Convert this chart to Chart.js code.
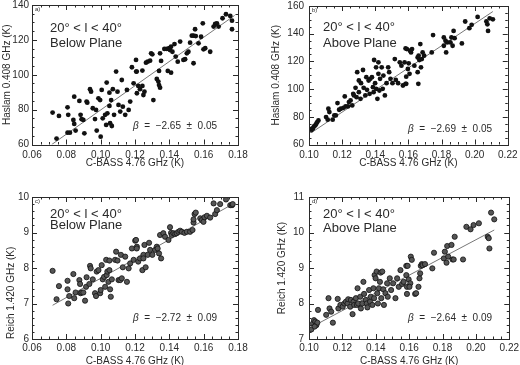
<!DOCTYPE html>
<html lang="en">
<head>
  <meta charset="UTF-8">
  <title>C-BASS vs Haslam / Reich</title>
  <script src="https://cdn.jsdelivr.net/npm/chart.js"></script>
  <style>
    body { margin: 0; background: #fff; }
    #wrap { position: relative; width: 520px; height: 365px; overflow: hidden; }
    #wrap canvas { position: absolute; }
  </style>
</head>
<body>

<div id="wrap">
  <canvas id="pa" width="260" height="185" style="left:0;top:-5px"></canvas>
  <canvas id="pb" width="262" height="185" style="left:260px;top:-5px"></canvas>
  <canvas id="pc" width="260" height="185" style="left:0;top:180px"></canvas>
  <canvas id="pd" width="262" height="185" style="left:260px;top:180px"></canvas>
</div>

<script>
  // panel a) Haslam vs C-BASS, below plane
  const aX = [
    0.0720,0.0757,0.0743,0.0807,0.0811,0.0807,0.0821,0.0846,0.0841,0.0846,
    0.0854,0.0883,0.0889,0.0876,0.0899,0.0905,0.0918,0.0922,0.0938,0.0944,
    0.0954,0.0967,0.0973,0.0977,0.0987,0.0997,0.1000,0.1006,0.1012,0.1026,
    0.1032,0.1035,0.1039,0.1051,0.1051,0.1055,0.1061,0.1065,0.1071,0.1078,
    0.1090,0.1098,0.1104,0.1114,0.1123,0.1129,0.1143,0.1153,0.1163,0.1172,
    0.1182,0.1192,0.1207,0.1211,
    0.1206,0.1210,0.1219,0.1229,0.1243,0.1243,0.1249,0.1255,0.1264,0.1274,
    0.1288,0.1294,0.1301,0.1307,0.1327,0.1336,0.1340,0.1346,0.1340,0.1346,
    0.1352,0.1371,0.1385,0.1391,0.1399,0.1404,0.1410,0.1410,0.1418,0.1430,
    0.1437,0.1449,0.1463,0.1482,0.1492,0.1502,0.1511,0.1521,0.1531,0.1541,
    0.1541,0.1550,0.1554,0.1570,0.1585,0.1595,0.1599,0.1609,0.1638,0.1658,
    0.1667,0.1677,0.1687,0.1710,0.1730,0.1755,0.1765,0.1765
  ];
  const aY = [
    78.3,76.4,63.4,81.3,77.0,66.8,66.8,87.4,74.1,71.8,
    68.0,77.0,74.5,85.0,74.1,66.4,84.6,84.0,91.7,90.3,
    80.8,74.6,79.8,68.0,86.5,85.5,64.5,91.3,75.0,77.0,
    71.2,95.5,77.9,89.7,82.1,72.2,85.5,70.6,91.7,77.0,
    101.8,90.3,82.7,78.9,97.0,81.7,77.0,91.3,79.8,84.6,
    104.3,95.1,101.8,89.4,
    108.5,101.8,93.6,91.7,102.4,93.6,88.4,90.3,106.9,107.5,
    108.1,112.3,111.7,85.5,97.6,96.1,94.1,92.6,102.2,112.3,
    107.9,114.8,114.8,102.2,115.2,114.2,116.1,101.2,113.2,117.6,
    110.4,107.5,119.0,108.5,108.9,112.3,113.2,118.4,122.4,106.6,
    122.4,126.1,122.2,118.0,121.8,129.5,114.6,115.2,113.2,127.6,
    129.1,129.5,127.6,132.4,134.7,133.7,131.0,126.1
  ];

  // panel b) Haslam vs C-BASS, above plane
  const bX = [
    0.1014,0.1024,0.1030,0.1038,0.1044,0.1050,0.1057,0.1018,0.1103,0.1113,
    0.1117,0.1123,0.1143,0.1153,0.1162,0.1172,0.1182,0.1192,0.1208,0.1216,
    0.1221,0.1235,0.1241,0.1251,0.1261,0.1267,0.1271,0.1281,0.1287,0.1291,
    0.1301,0.1301,0.1311,0.1314,0.1326,0.1330,0.1340,0.1346,0.1350,0.1360,
    0.1366,0.1370,0.1380,0.1386,0.1390,0.1393,0.1399,0.1405,0.1405,0.1413,
    0.1419,0.1419,0.1425,0.1429,0.1439,0.1445,0.1449,0.1458,0.1468,0.1478,
    0.1484,0.1492,0.1504,0.1518,0.1524,0.1538,0.1548,0.1558,0.1567,0.1583,
    0.1587,
    0.1577,0.1587,0.1583,0.1591,0.1597,0.1610,0.1616,0.1607,0.1622,0.1602,
    0.1636,0.1656,0.1662,0.1666,0.1656,0.1660,0.1676,0.1672,0.1681,0.1695,
    0.1686,0.1741,0.1749,0.1814,0.1814,0.1824,0.1828,0.1834,0.1854,0.1860,
    0.1867,0.1873,0.1879,0.1923,0.1943,0.1968,0.1982,0.2018,0.2071,0.2077,
    0.2081,0.2091,0.2110
  ];
  const bY = [
    70.3,71.5,73.1,73.8,75.0,76.2,77.4,71.5,79.8,77.9,
    85.8,83.4,77.9,81.0,81.0,89.9,85.1,85.8,86.5,94.7,
    87.5,87.5,90.6,91.8,88.2,96.6,95.4,100.9,94.2,112.2,
    106.2,97.8,93.0,104.3,113.8,100.9,95.4,108.6,99.5,106.2,
    96.6,107.4,108.6,101.4,97.8,121.0,104.3,115.7,100.2,93.0,
    119.3,111.0,99.0,107.4,115.7,100.2,109.8,95.4,104.3,115.7,
    112.2,107.4,104.3,121.7,106.6,104.3,119.3,116.9,102.6,129.4,
    103.8,
    119.3,109.0,103.8,128.9,114.5,127.7,126.5,111.0,128.9,118.6,
    116.9,122.9,124.1,121.0,112.2,103.8,115.7,132.5,121.7,124.1,
    126.5,126.5,139.0,137.3,131.3,134.9,126.5,133.7,133.7,137.3,
    131.3,142.0,136.8,133.0,148.8,144.0,146.4,152.1,148.8,146.8,
    142.0,151.1,150.4
  ];

  // panel c) Reich vs C-BASS, below plane
  const cX = [
    0.0720,0.0757,0.0743,0.0807,0.0807,0.0817,0.0811,0.0841,0.0846,0.0854,
    0.0876,0.0880,0.0883,0.0889,0.0899,0.0909,0.0915,0.0918,0.0934,0.0938,
    0.0942,0.0954,0.0967,0.0973,0.0977,0.0987,0.0997,0.1000,0.1006,0.1012,
    0.1020,0.1026,0.1032,0.1035,0.1039,0.1045,0.1051,0.1055,0.1059,0.1065,
    0.1051,0.1084,0.1090,0.1098,0.1104,0.1114,0.1118,0.1123,0.1129,0.1143,
    0.1153,0.1163,0.1172,0.1182,0.1192,0.1201,0.1211,
    0.1206,0.1210,0.1219,0.1229,0.1243,0.1249,0.1249,0.1255,0.1262,0.1274,
    0.1282,0.1288,0.1301,0.1317,0.1327,0.1332,0.1340,0.1346,0.1352,0.1365,
    0.1375,0.1395,0.1404,0.1410,0.1414,0.1424,0.1434,0.1443,0.1453,0.1463,
    0.1473,0.1488,0.1502,0.1521,0.1535,0.1541,0.1547,0.1554,0.1541,0.1580,
    0.1589,0.1599,0.1605,0.1619,0.1638,0.1658,0.1667,0.1677,0.1696,0.1730,
    0.1755,0.1765,0.1769
  ];
  const cY = [
    7.92,7.49,7.12,7.64,7.40,7.21,7.00,7.83,7.15,7.31,
    7.66,7.55,7.29,7.31,7.31,7.08,7.47,7.74,7.55,8.06,
    7.99,7.68,7.29,7.21,7.90,7.94,7.29,7.38,8.08,7.68,
    7.75,7.47,8.23,7.80,7.90,7.61,7.94,7.40,7.19,7.68,
    8.21,8.23,8.46,8.21,7.66,7.66,8.37,7.71,8.02,8.32,
    7.61,7.99,8.13,8.55,8.23,8.77,8.60,
    8.79,8.55,8.18,8.27,7.94,8.37,8.27,8.65,8.02,8.37,
    8.71,8.51,8.37,8.51,8.60,8.55,8.41,8.93,8.27,8.98,
    8.88,8.79,9.15,8.99,8.93,8.98,8.96,8.98,9.02,9.05,
    9.02,8.99,9.02,9.02,9.07,9.28,9.52,9.56,9.37,9.40,
    9.35,9.30,9.43,9.47,9.42,9.82,9.52,9.63,9.80,9.93,
    9.77,9.77,9.80
  ];

  // panel d) Reich vs C-BASS, above plane
  const dX = [
    0.1014,0.1024,0.1030,0.1038,0.1044,0.1050,0.1054,0.1034,0.1103,0.1117,
    0.1123,0.1133,0.1143,0.1172,0.1176,0.1188,0.1202,0.1212,0.1221,0.1231,
    0.1235,0.1247,0.1251,0.1261,0.1267,0.1271,0.1281,0.1287,0.1291,0.1295,
    0.1307,0.1311,0.1320,0.1326,0.1330,0.1340,0.1346,0.1350,0.1360,0.1366,
    0.1370,0.1380,0.1386,0.1390,0.1393,0.1399,0.1405,0.1409,0.1413,0.1419,
    0.1425,0.1429,0.1433,0.1439,0.1445,0.1449,0.1458,0.1468,0.1472,0.1484,
    0.1492,0.1504,0.1518,0.1528,0.1538,0.1548,0.1558,0.1567,0.1583,0.1587,
    0.1587,
    0.1583,0.1591,0.1597,0.1607,0.1610,0.1616,0.1602,0.1636,0.1642,0.1656,
    0.1662,0.1666,0.1670,0.1676,0.1681,0.1695,0.1739,0.1749,0.1808,0.1814,
    0.1824,0.1828,0.1834,0.1854,0.1860,0.1867,0.1873,0.1923,0.1943,0.1968,
    0.1986,0.2018,0.2071,0.2077,0.2081,0.2091,0.2110
  ];
  const dY = [
    7.27,7.44,7.53,7.49,7.39,7.46,7.82,7.35,7.68,8.15,
    7.86,7.77,7.46,8.13,7.86,7.96,7.91,8.00,8.05,8.00,
    8.12,7.91,8.10,7.70,8.05,7.96,8.15,7.96,8.43,8.00,
    8.19,7.86,8.00,8.61,8.27,8.10,8.00,7.89,8.38,8.05,
    8.19,7.96,8.43,8.15,8.80,8.71,8.90,8.29,8.00,8.43,
    8.61,8.87,8.15,8.90,8.40,7.96,8.29,8.57,8.19,8.71,
    8.38,8.57,8.15,8.71,8.47,8.94,8.55,8.61,9.06,8.47,
    8.27,
    8.80,9.06,8.68,8.57,9.32,9.23,8.47,8.27,8.29,8.47,
    8.71,8.85,9.06,9.11,9.08,9.11,8.99,9.43,9.27,9.46,
    9.15,9.62,9.32,9.65,9.24,9.24,9.88,9.24,10.16,10.09,
    10.21,10.26,9.88,9.84,9.55,10.56,10.37
  ];

  // fitted power-law lines (end points)
  const fitAX = [0.0715, 0.178], fitAY = [60, 134];
  const fitBX = [0.102, 0.211],  fitBY = [69, 156];
  const fitCX = [0.072, 0.178],  fitCY = [6.95, 9.83];
  const fitDX = [0.106, 0.211],  fitDY = [7.45, 10.07];

  const betaLabels = ['-2.65 ± 0.05', '-2.69 ± 0.05', '-2.72 ± 0.09', '-2.64 ± 0.09'];

  const FONT = 'Liberation Sans';
  const INK = '#2a2a2a';

  // box frame + inward major/minor ticks on all four sides (IDL style)
  const frameTicks = {
    id: 'frameTicks',
    afterDatasetsDraw(chart, args, o) {
      const {ctx, chartArea: a, scales: {x, y}} = chart;
      ctx.save();
      ctx.strokeStyle = INK;
      ctx.lineWidth = 1;
      ctx.strokeRect(Math.round(a.left) + 0.5, Math.round(a.top) + 0.5,
        Math.round(a.right - a.left), Math.round(a.bottom - a.top));
      ctx.beginPath();
      const nx = Math.round((x.max - x.min) / o.xMinor);
      const perX = Math.round(o.xStep / o.xMinor);
      for (let i = 0; i <= nx; i++) {
        const px = Math.round(x.getPixelForValue(x.min + i * o.xMinor)) + 0.5;
        const len = i % perX === 0 ? 5 : 2.5;
        ctx.moveTo(px, a.bottom); ctx.lineTo(px, a.bottom - len);
        ctx.moveTo(px, a.top); ctx.lineTo(px, a.top + len);
      }
      const ny = Math.round((y.max - y.min) / o.yMinor);
      const perY = Math.round(o.yStep / o.yMinor);
      for (let i = 0; i <= ny; i++) {
        const py = Math.round(y.getPixelForValue(y.min + i * o.yMinor)) + 0.5;
        const len = i % perY === 0 ? 5 : 2.5;
        ctx.moveTo(a.left, py); ctx.lineTo(a.left + len, py);
        ctx.moveTo(a.right, py); ctx.lineTo(a.right - len, py);
      }
      ctx.stroke();
      ctx.restore();
    }
  };

  // in-panel annotations
  const panelText = {
    id: 'panelText',
    afterDraw(chart, args, o) {
      const {ctx, chartArea: a} = chart;
      ctx.save();
      ctx.fillStyle = INK;
      ctx.textBaseline = 'middle';
      ctx.font = '6px ' + FONT;
      ctx.fillText(o.letter, a.left + 3, a.top + 4);
      ctx.font = '13px ' + FONT;
      ctx.fillText('20° < l < 40°', a.left + o.tx, a.top + o.ty1);
      ctx.fillText(o.region, a.left + o.tx, a.top + o.ty2);
      ctx.font = 'italic 10px ' + FONT;
      let bx = a.left + o.bx;
      ctx.fillText('β', bx, a.top + o.by);
      bx += ctx.measureText('β').width;
      ctx.font = '10px ' + FONT;
      ctx.fillText('  =  ' + o.beta.replace('-', '−').replace('±', ' ± '), bx, a.top + o.by);
      ctx.restore();
    }
  };

  function makePanel(id, p) {
    const pts = p.xs.map((v, i) => ({x: v, y: p.ys[i]}));
    const fit = p.fx.map((v, i) => ({x: v, y: p.fy[i]}));
    new Chart(document.getElementById(id), {
      type: 'scatter',
      data: {
        datasets: [
          {
            data: pts,
            pointRadius: p.dark ? 2.4 : 2.6,
            backgroundColor: p.dark ? '#111' : '#555',
            borderColor: '#111',
            borderWidth: p.dark ? 0 : 0.8,
          },
          {
            data: fit,
            showLine: true,
            pointRadius: 0,
            borderColor: '#777',
            borderWidth: 1,
          },
        ],
      },
      options: {
        responsive: false,
        animation: false,
        events: [],
        layout: { padding: { left: 0, right: p.padR, top: p.padT, bottom: 0 } },
        plugins: {
          legend: { display: false },
          tooltip: { enabled: false },
          frameTicks: { xStep: 0.02, xMinor: 0.005, yStep: p.yStep, yMinor: p.yMinor },
          panelText: p.text,
        },
        scales: {
          x: {
            type: 'linear',
            min: p.xr[0], max: p.xr[1],
            grid: { display: false, drawTicks: false },
            border: { display: false },
            ticks: {
              stepSize: 0.02, autoSkip: false, maxRotation: 0,
              padding: p.xPad, color: INK, font: { family: FONT, size: 10 },
              callback: v => v.toFixed(2),
            },
            title: {
              display: true, text: 'C-BASS 4.76 GHz (K)', color: INK,
              font: { family: FONT, size: 10 }, padding: { top: 0, bottom: p.xTitlePad },
            },
            afterFit(s) { s.height = p.xH; },
          },
          y: {
            min: p.yr[0], max: p.yr[1],
            grid: { display: false, drawTicks: false },
            border: { display: false },
            ticks: {
              stepSize: p.yStep, padding: p.yPad, color: INK,
              font: { family: FONT, size: 10 },
            },
            title: {
              display: true, text: p.yTitle, color: INK, align: p.yTitleAlign,
              font: { family: FONT, size: 10 }, padding: { top: p.yTitlePad, bottom: 0 },
            },
            afterFit(s) { s.width = p.yW; },
          },
        },
      },
      plugins: [frameTicks, panelText],
    });
  }

  makePanel('pa', {
    xs: aX, ys: aY, fx: fitAX, fy: fitAY, dark: true,
    xr: [0.06, 0.18], yr: [60, 140], yStep: 20, yMinor: 5,
    yTitle: 'Haslam 0.408 GHz (K)', yTitleAlign: 'center',
    padT: 10, padR: 22, yW: 32, xH: 35.5, xPad: 4.5, yPad: 3, xTitlePad: 10.5, yTitlePad: 1,
    text: { letter: 'a)', region: 'Below Plane', tx: 18, ty1: 23, ty2: 38, bx: 101, by: 121, beta: betaLabels[0] },
  });
  makePanel('pb', {
    xs: bX, ys: bY, fx: fitBX, fy: fitBY, dark: true,
    xr: [0.10, 0.22], yr: [60, 160], yStep: 20, yMinor: 5,
    yTitle: 'Haslam 0.408 GHz (K)', yTitleAlign: 'center',
    padT: 10, padR: 10, yW: 49, xH: 35.5, xPad: 4.5, yPad: 5, xTitlePad: 10.5, yTitlePad: 10,
    text: { letter: 'b)', region: 'Above Plane', tx: 14, ty1: 21, ty2: 37, bx: 99, by: 123.5, beta: betaLabels[1] },
  });
  makePanel('pc', {
    xs: cX, ys: cY, fx: fitCX, fy: fitCY, dark: false,
    xr: [0.06, 0.18], yr: [6, 10], yStep: 1, yMinor: 0.2,
    yTitle: 'Reich 1.420 GHz (K)', yTitleAlign: 'start',
    padT: 17, padR: 22, yW: 32, xH: 26, xPad: 3, yPad: 3, xTitlePad: -2, yTitlePad: 5,
    text: { letter: 'c)', region: 'Below Plane', tx: 18, ty1: 17, ty2: 28, bx: 101, by: 121, beta: betaLabels[2] },
  });
  makePanel('pd', {
    xs: dX, ys: dY, fx: fitDX, fy: fitDY, dark: false,
    xr: [0.10, 0.22], yr: [7, 11], yStep: 1, yMinor: 0.2,
    yTitle: 'Reich 1.420 GHz (K)', yTitleAlign: 'center',
    padT: 17, padR: 10, yW: 49, xH: 26, xPad: 3, yPad: 5, xTitlePad: -2, yTitlePad: 16,
    text: { letter: 'd)', region: 'Above Plane', tx: 14, ty1: 17, ty2: 31.5, bx: 99, by: 121, beta: betaLabels[3] },
  });
</script>

</body>
</html>
